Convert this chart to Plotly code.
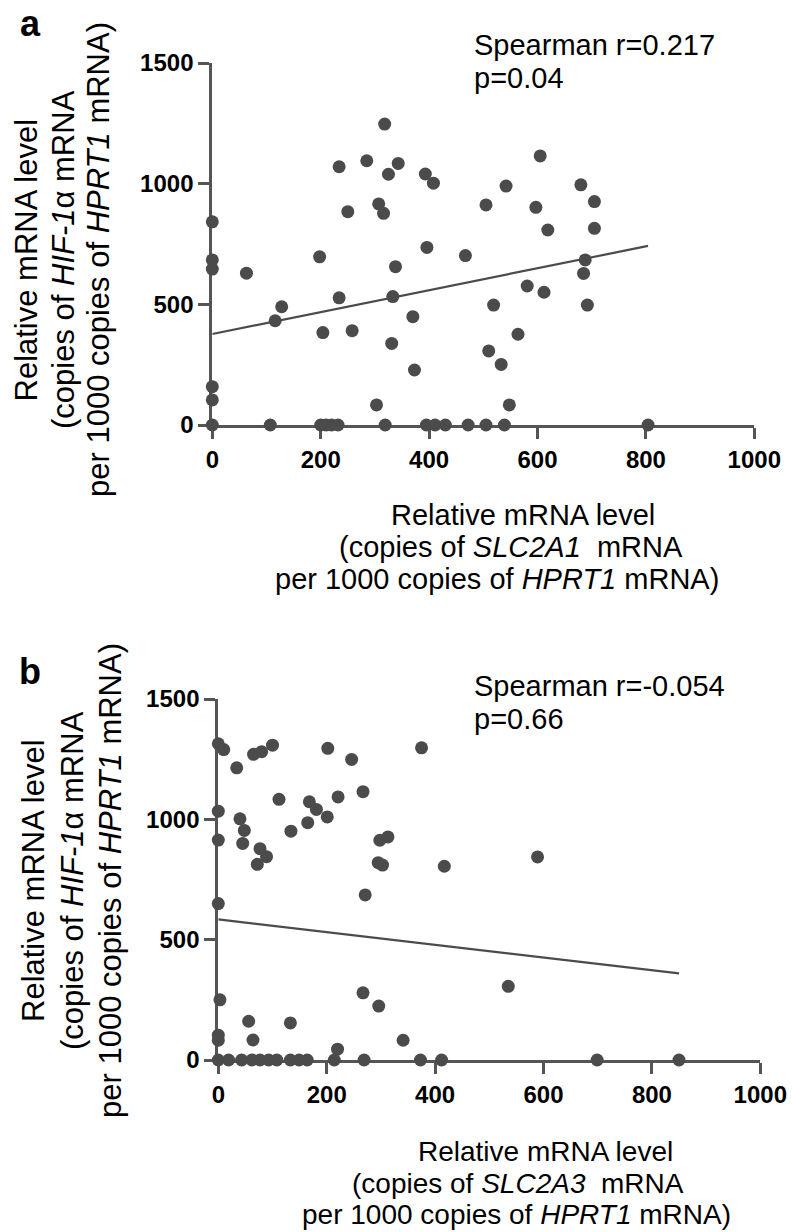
import plotly.graph_objects as go

W, H = 792, 1232

# ---------------- data: panel a (SLC2A1 vs HIF-1a) ----------------
a_x = [0, 0, 0, 0, 0, 0,
       63, 116, 128, 107,
       198, 204, 234, 234, 250, 258, 285, 307, 316, 318, 325, 343, 333, 338, 331, 303,
       370, 373, 393, 408, 396, 467,
       605, 542, 505, 597, 619, 680, 705, 705, 688, 685, 692, 581, 612, 519, 564, 510, 533, 548,
       200, 210, 220, 232, 319, 395, 411, 430, 472, 505, 539, 804]
a_y = [842, 684, 646, 159, 104, 0,
       629, 432, 490, 0,
       697, 383, 1070, 527, 884, 391, 1095, 916, 877, 1247, 1039, 1084, 532, 656, 338, 83,
       449, 228, 1040, 1002, 736, 702,
       1115, 990, 912, 902, 808, 995, 926, 815, 684, 628, 497, 576, 550, 497, 376, 307, 251, 83,
       0, 0, 0, 0, 0, 0, 0, 0, 0, 0, 0, 0]
a_fit_x = [0, 804]
a_fit_y = [377, 742]

# ---------------- data: panel b (SLC2A3 vs HIF-1a) ----------------
b_x = [0, 10, 34, 65, 80, 100, 202, 246, 375, 112, 0, 40, 48, 45, 0, 77, 89, 72,
       134, 165, 168, 181, 201, 221, 267, 298, 313, 295, 303, 271, 0, 417, 589,
       3, 0, 0, 56, 64, 133, 267, 296, 341, 220, 535,
       0, 19, 43, 62, 77, 93, 108, 133, 149, 164, 214, 269, 373, 412, 699, 850]
b_y = [1314, 1290, 1214, 1270, 1281, 1308, 1295, 1249, 1297, 1083, 1034, 1002, 954, 900, 914, 878, 845, 813,
       951, 986, 1073, 1041, 1010, 1093, 1115, 913, 927, 820, 810, 686, 650, 805, 844,
       250, 103, 82, 161, 83, 154, 279, 224, 82, 45, 306,
       0, 0, 0, 0, 0, 0, 0, 0, 0, 0, 0, 0, 0, 0, 0, 0]
b_fit_x = [0, 850]
b_fit_y = [584, 360]

y_ticks = [0, 500, 1000, 1500]
x_ticks = [0, 200, 400, 600, 800, 1000]

stats_a = ["Spearman r=0.217", "p=0.04"]
stats_b = ["Spearman r=-0.054", "p=0.66"]

# ---------------- styling ----------------
DARK = "#4b4b4b"
AXIS = "#555555"
FONT = "Liberation Sans, Arial, sans-serif"


def px(x):
    return x / W


def py(y):
    return 1 - y / H


fig = go.Figure()

for (xs, ys, fx, fy, xa, ya) in [(a_x, a_y, a_fit_x, a_fit_y, "x", "y"),
                                 (b_x, b_y, b_fit_x, b_fit_y, "x2", "y2")]:
    fig.add_trace(go.Scatter(x=fx, y=fy, mode="lines", xaxis=xa, yaxis=ya,
                             line=dict(color=DARK, width=2.2), showlegend=False,
                             cliponaxis=False, hoverinfo="skip"))
    fig.add_trace(go.Scatter(x=xs, y=ys, mode="markers", xaxis=xa, yaxis=ya,
                             marker=dict(color=DARK, size=13, line=dict(width=0)),
                             showlegend=False, cliponaxis=False))

axis_common = dict(showgrid=False, zeroline=False, showline=True, linecolor=AXIS,
                   linewidth=3, ticks="outside", ticklen=11, tickwidth=2.5,
                   tickcolor=AXIS, automargin=False, layer="below traces",
                   tickfont=dict(family=FONT, size=24, color="black", weight="bold"))

fig.update_layout(
    width=W, height=H,
    margin=dict(l=0, r=0, t=0, b=0),
    paper_bgcolor="white", plot_bgcolor="white",
    showlegend=False,
    xaxis=dict(domain=[px(212.3), px(754.3)], range=[0, 1000], anchor="y",
               tickvals=x_ticks, **axis_common),
    yaxis=dict(domain=[py(425), py(63)], range=[0, 1500], anchor="x",
               tickvals=y_ticks, **axis_common),
    xaxis2=dict(domain=[px(218.3), px(760.3)], range=[0, 1000], anchor="y2",
                tickvals=x_ticks, **axis_common),
    yaxis2=dict(domain=[py(1060), py(699)], range=[0, 1500], anchor="x2",
                tickvals=y_ticks, **axis_common),
)

ann = []


def text(t, x, y, size=30, angle=0, xanchor="center", yanchor="middle", bold=False):
    ann.append(dict(text=t, x=px(x), y=py(y), xref="paper", yref="paper",
                    xanchor=xanchor, yanchor=yanchor, showarrow=False,
                    textangle=angle,
                    font=dict(family=FONT, size=size, color="black",
                              weight="bold" if bold else "normal")))


# panel letters
text("a", 30, 1, size=36, bold=True, yanchor="top")
text("b", 30, 649, size=36, bold=True, yanchor="top")

# stats
text(stats_a[0], 472, 45, xanchor="left", size=29)
text(stats_a[1], 472, 78, xanchor="left", size=29)
text(stats_b[0], 472, 686, xanchor="left", size=29)
text(stats_b[1], 472, 719, xanchor="left", size=29)

# y titles
ylines = ["Relative mRNA level",
          "(copies of <i>HIF-1</i>α mRNA",
          "per 1000 copies of <i>HPRT1</i> mRNA)"]
for t, x in zip(ylines, [25.5, 63, 98]):
    text(t, x, 260, size=31, angle=-90)
for t, x in zip(ylines, [33, 72, 110]):
    text(t, x, 881, size=31, angle=-90)

# x titles
text("Relative mRNA level", 523, 515, size=29)
text("(copies of <i>SLC2A1</i>&nbsp; mRNA", 511, 547, size=29)
text("per 1000 copies of <i>HPRT1</i> mRNA)", 497, 579, size=29)

text("Relative mRNA level", 545, 1151, size=28)
text("(copies of <i>SLC2A3</i>&nbsp; mRNA", 518, 1183.5, size=28)
text("per 1000 copies of <i>HPRT1</i> mRNA)", 516, 1232, size=28, yanchor="bottom")

fig.update_layout(annotations=ann)

fig.write_html("out.html",
               config={"displayModeBar": False},
               post_script="document.body.style.margin='0';document.body.style.padding='0';")
